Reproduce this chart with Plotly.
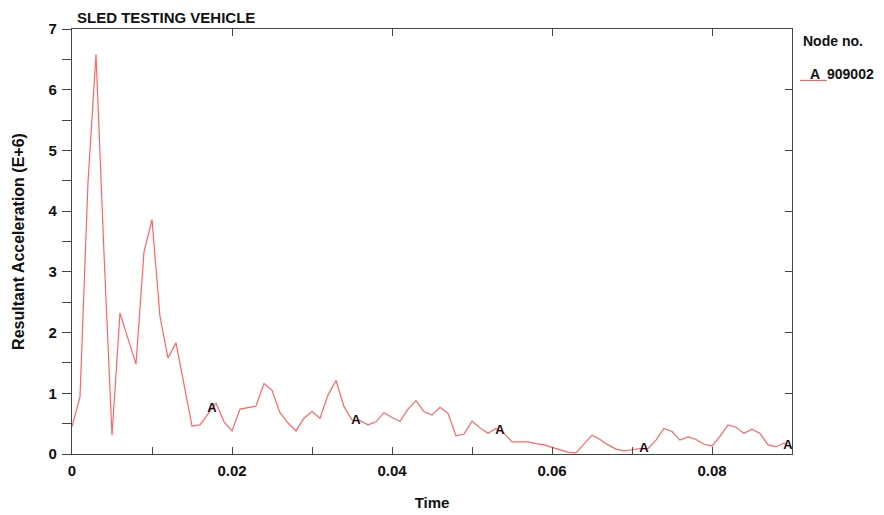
import numpy as np
import plotly.graph_objects as go

# ---- data ----
time = [round(i * 0.001, 3) for i in range(91)]
accel = [0.45, 0.94, 4.48, 6.58, 3.30, 0.31, 2.32, 1.90, 1.48, 3.33,
         3.86, 2.26, 1.58, 1.83, 1.15, 0.46, 0.48, 0.66, 0.84, 0.53,
         0.38, 0.74, 0.77, 0.79, 1.16, 1.05, 0.68, 0.51, 0.38, 0.59,
         0.70, 0.59, 0.97, 1.21, 0.78, 0.56, 0.55, 0.48, 0.53, 0.68,
         0.60, 0.54, 0.74, 0.88, 0.70, 0.64, 0.77, 0.67, 0.30, 0.33,
         0.54, 0.43, 0.34, 0.42, 0.34, 0.20, 0.20, 0.20, 0.17, 0.15,
         0.11, 0.07, 0.03, 0.02, 0.17, 0.31, 0.24, 0.15, 0.08, 0.05,
         0.07, 0.09, 0.09, 0.23, 0.42, 0.37, 0.23, 0.28, 0.24, 0.16,
         0.13, 0.29, 0.48, 0.44, 0.34, 0.41, 0.34, 0.15, 0.12, 0.18,
         0.09]
marker_times = [0.0175, 0.0355, 0.0535, 0.0715, 0.0895]
marker_label = "A"
node_id = "909002"
title_text = "SLED TESTING VEHICLE"
x_title = "Time"
y_title = "Resultant Acceleration (E+6)"

LINE_RED = "#ff6464"
AXC = "#444444"
FONT = "Liberation Sans"
TXT = "#111111"

marker_vals = np.interp(marker_times, time, accel)

fig = go.Figure()
fig.add_trace(go.Scatter(x=time, y=accel, mode="lines",
                         line=dict(color=LINE_RED, width=1.2),
                         showlegend=False, hoverinfo="skip"))
fig.add_trace(go.Scatter(x=marker_times, y=marker_vals, mode="text",
                         text=[marker_label] * len(marker_times),
                         textposition="middle center",
                         textfont=dict(family=FONT, size=13, color=TXT, weight="bold"),
                         showlegend=False, hoverinfo="skip"))
fig.add_trace(go.Scatter(x=[], y=[], xaxis="x2", yaxis="y2", showlegend=False))

tickfont = dict(family=FONT, size=15, color=TXT, weight="bold")
# the page body has an 8px margin, so the figure is drawn 8px smaller and the
# margins are adjusted to keep the plot area where the reference has it
fig.update_layout(
    width=876, height=507,
    margin=dict(l=64, r=92, t=21, b=61, autoexpand=False),
    paper_bgcolor="white", plot_bgcolor="white",
    showlegend=False,
    xaxis=dict(range=[0, 0.09], tick0=0, dtick=0.02, showgrid=False, zeroline=False,
               automargin=False,
               showline=True, linecolor=AXC, linewidth=1.2,
               ticks="inside", ticklen=7, tickcolor=AXC, tickwidth=1.2,
               minor=dict(dtick=0.01, ticks="inside", ticklen=7, tickcolor=AXC, tickwidth=1.2, showgrid=False),
               tickfont=tickfont, ticklabelstandoff=3,
               title=dict(text=x_title, font=dict(family=FONT, size=15, color=TXT, weight="bold"), standoff=19)),
    yaxis=dict(range=[0, 7], tick0=0, dtick=1, showgrid=False, zeroline=False,
               automargin=False,
               showline=True, linecolor=AXC, linewidth=1.2,
               ticks="outside", ticklen=9, tickcolor=AXC, tickwidth=1.2,
               minor=dict(dtick=0.5, ticks="outside", ticklen=9, tickcolor=AXC, tickwidth=1.2, showgrid=False),
               tickfont=tickfont, ticklabelstandoff=2,
               title=dict(text=y_title, font=dict(family=FONT, size=16, color=TXT, weight="bold"), standoff=19)),
    xaxis2=dict(range=[0, 0.09], tick0=0, dtick=0.02, overlaying="x", side="top",
                automargin=False,
                showgrid=False, zeroline=False, showline=True, linecolor=AXC, linewidth=1.2,
                ticks="inside", ticklen=7, tickcolor=AXC, showticklabels=False),
    yaxis2=dict(range=[0, 7], tick0=0, dtick=1, overlaying="y", side="right",
                automargin=False,
                showgrid=False, zeroline=False, showline=True, linecolor=AXC, linewidth=1.2,
                ticks="inside", ticklen=7, tickcolor=AXC, showticklabels=False),
)

fig.add_annotation(text=title_text, xref="paper", yref="paper", x=0.004, y=1.027,
                   xanchor="left", yanchor="middle", showarrow=False,
                   font=dict(family=FONT, size=15, color=TXT, weight="bold"))
fig.add_annotation(text="Node no.", xref="paper", yref="paper", x=(801 - 72) / 720, y=0.972,
                   xanchor="left", yanchor="middle", showarrow=False,
                   font=dict(family=FONT, size=14, color=TXT, weight="bold"))
fig.add_annotation(text=marker_label, xref="paper", yref="paper", x=(815 - 72) / 720, y=0.893,
                   xanchor="center", yanchor="middle", showarrow=False,
                   font=dict(family=FONT, size=14, color=TXT, weight="bold"))
fig.add_annotation(text=node_id, xref="paper", yref="paper", x=(825 - 72) / 720, y=0.893,
                   xanchor="left", yanchor="middle", showarrow=False,
                   font=dict(family=FONT, size=14, color=TXT, weight="bold"))
fig.add_shape(type="line", xref="paper", yref="paper", x0=(800 - 72) / 720, x1=(827 - 72) / 720,
              y0=0.879, y1=0.879, line=dict(color=LINE_RED, width=1.2))

fig.write_html("out.html")
